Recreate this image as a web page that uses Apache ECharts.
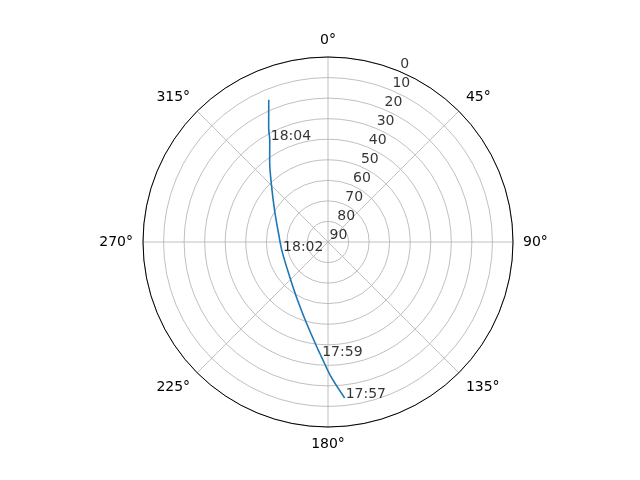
<html>
<head>
    <meta charset="utf-8">
    <title>Satellite pass</title>
    <script src="https://cdn.jsdelivr.net/npm/echarts@6/dist/echarts.min.js"></script>
</head>
<body style="margin:0;background:#fff;">
<div id="main" style="width: 640px;height:480px;"></div>
<script type="text/javascript">
    // pass track: azimuth (deg, clockwise from north) and elevation (deg)
    var azimuth   = [173.9, 178.8, 183.4, 185.3, 194.9, 207.9, 228.1, 258.5, 278.4, 299.9, 315.4, 324.1, 330.2, 332.5, 337.4];
    var elevation = [13.7, 24.6, 34.3, 37.4, 49.2, 58.2, 64.9, 67.2, 65.8, 60.1, 50.8, 41.6, 33.0, 27.5, 15.0];
    var timeLabel = ['17:57', '', '17:59', '', '', '', '', '18:02', '', '', '', '', '18:04', '', ''];
    var elevTicks = [0, 10, 20, 30, 40, 50, 60, 70, 80, 90];
    var rLabelAngle = 22.5;

    var track = [];
    var marks = [];
    for (var i = 0; i < azimuth.length; i++) {
        track.push([elevation[i], azimuth[i]]);
        if (timeLabel[i]) marks.push({value: [elevation[i], azimuth[i]], name: timeLabel[i]});
    }
    var rLabels = elevTicks.map(function (v) { return [v, rLabelAngle]; });

    var myChart = echarts.init(document.getElementById('main'));
    var font = 'DejaVu Sans';
    myChart.setOption({
        backgroundColor: '#fff',
        animation: false,
        polar: {center: [328, 242], radius: [0, 185]},
        angleAxis: {
            type: 'value', min: 0, max: 360, interval: 45,
            startAngle: 90, clockwise: true,
            axisLine: {lineStyle: {color: '#000', width: 1}},
            axisTick: {show: false},
            axisLabel: {
                margin: 10, color: '#000', fontFamily: font, fontSize: 14,
                formatter: function (v) { return v === 360 ? '' : v + '°'; }
            },
            splitLine: {lineStyle: {color: '#b0b0b0', width: 0.8}}
        },
        radiusAxis: {
            type: 'value', min: 0, max: 90, interval: 10, inverse: true,
            axisLine: {show: false}, axisTick: {show: false}, axisLabel: {show: false},
            splitLine: {lineStyle: {color: '#b0b0b0', width: 0.8}}
        },
        series: [{
            type: 'line', coordinateSystem: 'polar', data: track, smooth: 0.3,
            showSymbol: false, lineStyle: {color: '#1f77b4', width: 1.6}, z: 3
        }, {
            // time stamps along the track
            type: 'scatter', coordinateSystem: 'polar', data: marks,
            symbolSize: 1, itemStyle: {color: 'rgba(0,0,0,0)'}, z: 4,
            label: {
                show: true, position: [1.5, 3.5], align: 'left', verticalAlign: 'bottom',
                color: '#000', fontFamily: font, fontSize: 14,
                formatter: function (p) { return p.name; }
            }
        }, {
            // elevation tick labels
            type: 'scatter', coordinateSystem: 'polar', data: rLabels,
            symbolSize: 1, itemStyle: {color: 'rgba(0,0,0,0)'}, z: 4,
            label: {
                show: true, position: [2, 0.5], align: 'left', verticalAlign: 'bottom',
                color: '#000', fontFamily: font, fontSize: 14,
                formatter: function (p) { return String(p.value[0]); }
            }
        }]
    });
</script>
</body>
</html>
